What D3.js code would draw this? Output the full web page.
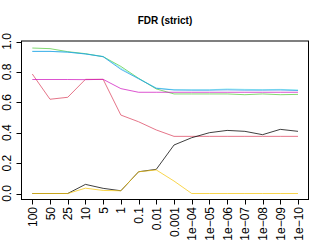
<!DOCTYPE html>
<html>
<head>
<meta charset="utf-8">
<script src="https://cdn.jsdelivr.net/npm/d3@7"></script>
<style>
  body { margin: 0; background: #fff; }
  svg { display: block; font-family: "Liberation Sans", Arial, sans-serif; }
</style>
</head>
<body>
<svg id="chart" width="311" height="250"></svg>
<script>
const categories = ['100', '50', '25', '10', '5', '1', '0.1', '0.01', '0.001',
  '1e\u221204', '1e\u221205', '1e\u221206', '1e\u221207', '1e\u221208', '1e\u221209', '1e\u221210'];
const yTicks = [0, 0.2, 0.4, 0.6, 0.8, 1.0];

const blackVals   = [0, 0, 0, 0.06, 0.034, 0.018, 0.143, 0.159, 0.319, 0.367, 0.40, 0.415, 0.409, 0.387, 0.422, 0.409];
const redVals     = [0.786, 0.62, 0.633, 0.751, 0.751, 0.516, 0.472, 0.418, 0.376, 0.376, 0.376, 0.376, 0.376, 0.376, 0.376, 0.376];
const greenVals   = [0.957, 0.953, 0.933, 0.92, 0.90, 0.836, 0.758, 0.688, 0.655, 0.655, 0.655, 0.655, 0.65, 0.655, 0.65, 0.652];
const blueVals    = [0.935, 0.935, 0.93, 0.918, 0.90, 0.817, 0.755, 0.692, 0.681, 0.68, 0.68, 0.682, 0.68, 0.68, 0.681, 0.678];
const cyanVals    = [0.935, 0.935, 0.93, 0.918, 0.902, 0.825, 0.757, 0.694, 0.683, 0.682, 0.682, 0.688, 0.685, 0.683, 0.685, 0.681];
const magentaVals = [0.75, 0.75, 0.75, 0.749, 0.751, 0.69, 0.666, 0.666, 0.666, 0.666, 0.666, 0.666, 0.666, 0.666, 0.666, 0.666];
const yellowVals  = [0, 0, 0, 0.035, 0.02, 0.018, 0.143, 0.155, 0.082, 0, 0, 0, 0, 0, 0, 0];

const series = [
  { values: redVals, color: '#DF536B', opacity: 0.8 },
  { values: greenVals, color: '#61D04F', opacity: 0.8 },
  { values: cyanVals, color: '#28E2E5', opacity: 0.45 },
  { values: blueVals, color: '#2297E6', opacity: 0.75 },
  { values: magentaVals, color: '#CD0BBC', opacity: 0.7 },
  { values: blackVals, color: '#000000', opacity: 0.75 },
  { values: yellowVals, color: '#F5C710', opacity: 0.75 },
];

const svg = d3.select('#chart');
const boxLeft = 21.5, boxRight = 308.5, boxTop = 41, boxBottom = 199.5;

const x = d3.scalePoint().domain(categories).range([32.3, 298]);
const y = d3.scaleLinear().domain([0, 1]).range([193.5, 41.5]);

// title
svg.append('text')
  .attr('x', (boxLeft + boxRight) / 2)
  .attr('y', 24)
  .attr('text-anchor', 'middle')
  .attr('font-weight', 'bold')
  .attr('font-size', 10)
  .text('FDR (strict)');

// lines
const line = d3.line()
  .x((d, i) => x(categories[i]))
  .y((d) => y(d));

svg.append('g')
  .selectAll('path')
  .data(series)
  .join('path')
  .attr('d', (d) => line(d.values))
  .attr('fill', 'none')
  .attr('stroke', (d) => d.color)
  .attr('stroke-width', 1)
  .attr('stroke-opacity', (d) => d.opacity);

// box
svg.append('rect')
  .attr('x', boxLeft)
  .attr('y', boxTop)
  .attr('width', boxRight - boxLeft)
  .attr('height', boxBottom - boxTop)
  .attr('fill', 'none')
  .attr('stroke', '#000')
  .attr('stroke-width', 1);

// y axis
const gy = svg.append('g');
gy.selectAll('line')
  .data(yTicks)
  .join('line')
  .attr('x1', boxLeft - 5)
  .attr('x2', boxLeft)
  .attr('y1', (d) => Math.round(y(d)) + 0.5)
  .attr('y2', (d) => Math.round(y(d)) + 0.5)
  .attr('stroke', '#000');
gy.selectAll('text')
  .data(yTicks)
  .join('text')
  .attr('transform', (d) => `translate(10.5,${y(d)}) rotate(-90)`)
  .attr('text-anchor', 'middle')
  .attr('font-size', 12)
  .text((d) => d.toFixed(1));

// x axis
const gx = svg.append('g');
gx.selectAll('line')
  .data(categories)
  .join('line')
  .attr('x1', (d) => Math.round(x(d)) + 0.5)
  .attr('x2', (d) => Math.round(x(d)) + 0.5)
  .attr('y1', boxBottom)
  .attr('y2', boxBottom + 5)
  .attr('stroke', '#000');
gx.selectAll('text')
  .data(categories)
  .join('text')
  .attr('transform', (d) => `translate(${x(d) + 4.5},207) rotate(-90)`)
  .attr('text-anchor', 'end')
  .attr('font-size', 12)
  .text((d) => d);
</script>
</body>
</html>
